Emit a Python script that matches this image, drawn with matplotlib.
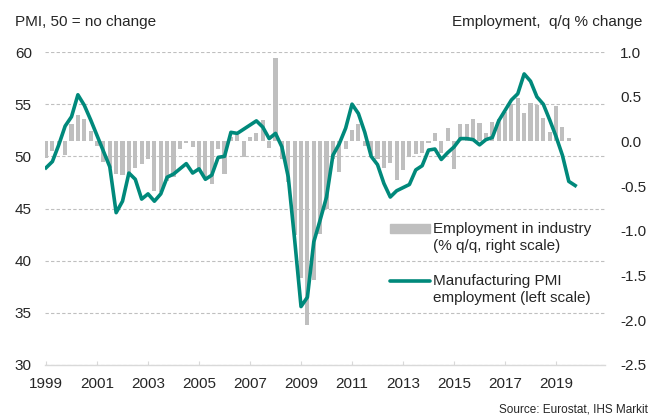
import numpy as np
import matplotlib
matplotlib.use("Agg")
import matplotlib.pyplot as plt
from matplotlib.patches import Rectangle
from matplotlib.lines import Line2D

plt.rcParams['font.family'] = ['Liberation Sans', 'DejaVu Sans']
plt.rcParams['axes.unicode_minus'] = False

# quarterly series, 1999Q1 onwards
start_year = 1999
pmi_employment = [
    48.9, 49.5, 51.1, 52.9, 53.8, 55.9, 54.9, 53.5, 52.0, 50.5, 49.0, 44.6,
    45.7, 48.4, 47.8, 45.9, 46.4, 45.7, 46.4, 48.0, 48.3, 48.8, 49.3, 48.4,
    48.8, 47.8, 48.2, 49.9, 50.0, 52.3, 52.2, 52.6, 53.0, 53.4, 52.8, 51.7,
    52.2, 50.9, 48.0, 42.0, 35.6, 36.5, 41.8, 43.9, 46.1, 50.1, 51.2, 52.7,
    55.0, 54.1, 52.3, 50.0, 49.2, 47.4, 46.1, 46.7, 47.0, 47.3, 48.7, 49.1,
    50.6, 50.7, 49.7, 50.35, 50.9, 51.7, 51.7, 51.6, 51.1, 51.6, 51.8, 53.4,
    54.4, 55.4, 56.0, 57.9, 57.2, 55.7, 55.0, 53.5, 51.9, 50.1, 47.6, 47.2,
]
industry_employment = [
    -0.18, -0.11, -0.03, -0.15, 0.19, 0.29, 0.25, 0.12, -0.05, -0.23, -0.30, -0.36,
    -0.38, -0.36, -0.30, -0.25, -0.20, -0.55, -0.56, -0.44, -0.40, -0.09, -0.02, -0.06,
    -0.32, -0.42, -0.48, -0.09, -0.36, 0.05, 0.07, -0.17, 0.05, 0.09, 0.24, -0.07,
    0.93, -0.20, -0.45, -1.05, -1.53, -2.05, -1.55, -1.03, -0.76, -0.20, -0.34, -0.09,
    0.13, 0.19, -0.05, -0.15, -0.20, -0.30, -0.24, -0.43, -0.32, -0.17, -0.14, -0.13,
    -0.02, 0.09, -0.13, 0.15, -0.31, 0.20, 0.20, 0.25, 0.21, 0.09, 0.22, 0.25,
    0.33, 0.42, 0.49, 0.32, 0.43, 0.41, 0.26, 0.10, 0.40, 0.16, 0.04,
]
year_ticks = list(range(1999, 2020, 2))

t_line = start_year + np.arange(len(pmi_employment)) / 4
t_bar = start_year + np.arange(len(industry_employment)) / 4

teal = '#00897b'
grey = '#bfbfbf'
txt = '#262626'

fig = plt.figure(figsize=(6.59, 4.17), dpi=100)
ax = fig.add_axes([45 / 659, 52 / 417, 560 / 659, 313 / 417])
ax2 = ax.twinx()

ax2.bar(t_bar, industry_employment, width=0.16, color=grey, zorder=2)
ax.plot(t_line, pmi_employment, color=teal, lw=2.6, solid_joinstyle='round', zorder=3)

# line above bars
ax.set_zorder(ax2.get_zorder() + 1)
ax.patch.set_visible(False)

ax.set_xlim(1998.96, 2020.92)
ax.set_ylim(30, 60)
ax2.set_ylim(-2.5, 1.0)
ax.set_yticks(range(30, 61, 5))
ax2.set_yticks(np.arange(-2.5, 1.01, 0.5))
ax2.set_yticklabels([f"{v:.1f}" for v in np.arange(-2.5, 1.01, 0.5)])
ax.set_xticks(year_ticks)
ax.set_xticklabels([str(y) for y in year_ticks])

ax.grid(axis='y', color=grey, ls=(0, (3, 2)), lw=0.8)
for s in ['top', 'left', 'right']:
    ax.spines[s].set_visible(False)
    ax2.spines[s].set_visible(False)
ax2.spines['bottom'].set_visible(False)
ax.spines['bottom'].set_color('#d9d9d9')
ax.spines['bottom'].set_linewidth(1.0)

ax.tick_params(axis='y', length=0, pad=9.5, labelsize=11, labelcolor=txt)
ax2.tick_params(axis='y', length=0, pad=10.8, labelsize=11, labelcolor=txt)
ax.tick_params(axis='x', direction='in', length=3, color='#d9d9d9', pad=9,
               labelsize=11, labelcolor=txt)

fig.text(15 / 659, 1 - 22 / 417, "PMI, 50 = no change", fontsize=11, color=txt,
         ha='left', va='center')
fig.text(642 / 659, 1 - 22 / 417, "Employment,  q/q % change", fontsize=11,
         color=txt, ha='right', va='center')
fig.text(648 / 659, 1 - 410 / 417, "Source: Eurostat, IHS Markit", fontsize=8.5,
         color=txt, ha='right', va='center')

# legend, drawn by hand so the key sits on the first text line
fig.add_artist(Rectangle((390 / 659, 1 - 233 / 417), 40 / 659, 9 / 417,
                         color=grey, transform=fig.transFigure))
fig.add_artist(Line2D([390 / 659, 430 / 659], [1 - 281 / 417] * 2, color=teal,
                      lw=2.6, solid_capstyle='round', transform=fig.transFigure))
fig.text(433 / 659, 1 - 229 / 417, "Employment in industry", fontsize=11,
         color=txt, va='center')
fig.text(433 / 659, 1 - 246 / 417, "(% q/q, right scale)", fontsize=11,
         color=txt, va='center')
fig.text(433 / 659, 1 - 281 / 417, "Manufacturing PMI", fontsize=11,
         color=txt, va='center')
fig.text(433 / 659, 1 - 298 / 417, "employment (left scale)", fontsize=11,
         color=txt, va='center')

fig.savefig("out.png", dpi=100)
